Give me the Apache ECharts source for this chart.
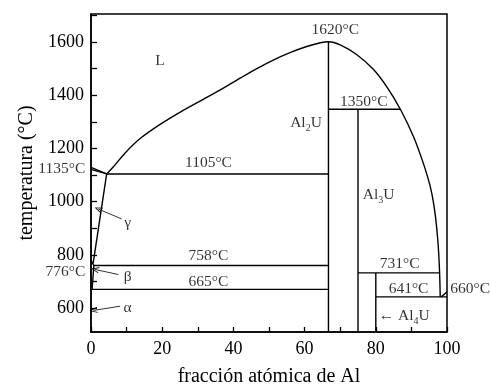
<!DOCTYPE html>
<html>
<head>
<meta charset="utf-8">
<style>
  html, body { margin: 0; padding: 0; background: #fff; }
  #chart { width: 490px; height: 392px; }
</style>
</head>
<body>
<div id="chart"></div>
<script src="https://cdn.jsdelivr.net/npm/echarts@6/dist/echarts.min.js"></script>
<script>
  // ticks
  const xTicks = [0, 10, 20, 30, 40, 50, 60, 70, 80, 90, 100];
  const xTickLabels = [0, 20, 40, 60, 80, 100];
  const yTicks = [600, 700, 800, 900, 1000, 1100, 1200, 1300, 1400, 1500, 1600, 1700];
  const yTickLabels = [600, 800, 1000, 1200, 1400, 1600];

  // phase boundaries [fraccion Al, T]
  const liquidus = [[4.4, 1104], [6.3, 1131], [9.6, 1183], [13.8, 1237], [19.4, 1290], [25.9, 1343],
    [35.3, 1412], [41.9, 1464], [46.6, 1500], [51.2, 1532], [55.9, 1560], [60.6, 1583], [64.4, 1597],
    [66.7, 1601], [70, 1589], [74.7, 1552], [79.3, 1497], [83.1, 1431], [86.9, 1347], [90.6, 1244],
    [93.5, 1138], [95.5, 1045], [96.7, 950], [97.5, 840], [97.9, 740], [98.1, 642]];
  const wedgeUpper = [[0, 1129], [4.4, 1104]];
  const wedgeLower = [[0, 1121], [4.4, 1104]];
  const gammaSolvus = [[4.4, 1104], [0.6, 768]];
  const betaBounds = [[0, 780], [0.8, 760], [0.3, 670]];
  const line1105 = [[4.4, 1104], [66.7, 1104]];
  const line758 = [[0.8, 760], [66.7, 760]];
  const line665 = [[0, 670], [66.7, 670]];
  const al2u = [[66.7, 1601], [66.7, 510]];
  const line1350 = [[66.7, 1347], [86.9, 1347]];
  const al3u = [[75, 1347], [75, 510]];
  const line731 = [[75, 732], [97.9, 732]];
  const al4u = [[80, 732], [80, 510]];
  const line641 = [[80, 642], [100, 642]];
  const line660 = [[98.4, 642], [100, 661]];

  // text labels [x, T, text]
  const annotations = [
    [19.4, 1533, 'L'],
    [68.6, 1650, '1620°C'],
    [76.6, 1380, '1350°C'],
    [60.4, 1300, 'Al{s|2}U'],
    [80.8, 1030, 'Al{s|3}U'],
    [33, 1150, '1105°C'],
    [33, 800, '758°C'],
    [33, 702, '665°C'],
    [86.7, 769, '731°C'],
    [89.2, 675, '641°C'],
    [106.5, 677, '660°C'],
    [-8.2, 1125, '1135°C'],
    [-7.2, 738, '776°C'],
    [10.3, 922, 'γ'],
    [10.3, 720, 'β'],
    [10.3, 605, 'α'],
    [88, 576, '← Al{s|4}U']
  ];
  const arrows = [
    [[8.6, 935], [2.05, 972]],
    [[7.7, 726], [1.1, 745]],
    [[8.2, 607], [0.65, 591]]
  ];

  const FONT = '"Liberation Serif", "Times New Roman", serif';
  const chart = echarts.init(document.getElementById('chart'));

  function boundary (data, smooth) {
    return {
      type: 'line',
      data: data,
      symbol: 'none',
      smooth: smooth ? 0.35 : false,
      lineStyle: { color: '#000', width: 1.4 },
      silent: true,
      z: 3
    };
  }

  const lineSets = [wedgeUpper, wedgeLower, gammaSolvus, betaBounds, line1105, line758, line665,
    al2u, line1350, al3u, line731, al4u, line641, line660];
  const series = [boundary(liquidus, true)].concat(lineSets.map(d => boundary(d, false)));

  series[series.length - 1].markLine = {
    silent: true,
    symbol: ['none', 'path://M0,10 L5,0 L10,10 L8.6,10 L5,2.6 L1.4,10 Z'],
    symbolSize: [6, 8],
    label: { show: false },
    lineStyle: { color: '#000', width: 0.8, type: 'solid' },
    data: arrows.map(a => [{ coord: a[0] }, { coord: a[1] }])
  };

  series.push({
    type: 'scatter',
    clip: false,
    symbolSize: 0,
    silent: true,
    data: annotations.map(a => ({
      value: [a[0], a[1]],
      name: a[2],
      label: { offset: [0, a[2].indexOf('{s|') >= 0 ? 1 : 1] }
    })),
    label: {
      show: true,
      position: 'inside',
      formatter: p => '{n|' + p.name.replace(/\{s\|(\d)\}/g, '}{s|$1}{n|') + '}',
      rich: {
        n: { fontFamily: FONT, fontSize: 15.5, color: '#000', lineHeight: 16, verticalAlign: 'top' },
        s: { fontFamily: FONT, fontSize: 10, color: '#000', lineHeight: 10, verticalAlign: 'top', padding: [9, 0, 0, 0] }
      }
    },
    z: 5
  });

  chart.setOption({
    animation: false,
    grid: {
      left: 91,
      right: 43,
      top: 14,
      bottom: 54,
      show: true,
      borderColor: '#000',
      borderWidth: 1.5
    },
    xAxis: {
      type: 'value',
      min: 0,
      max: 100,
      name: 'fracción atómica de Al',
      nameLocation: 'middle',
      nameGap: 35,
      nameTextStyle: { fontFamily: FONT, fontSize: 20, color: '#000' },
      axisLine: { lineStyle: { color: '#000', width: 1.5 } },
      axisTick: { inside: true, length: 5, customValues: xTicks, lineStyle: { color: '#000', width: 1.3 } },
      axisLabel: { customValues: xTickLabels, margin: 8, fontFamily: FONT, fontSize: 18, color: '#000', formatter: v => String(v) },
      splitLine: { show: false }
    },
    yAxis: {
      type: 'value',
      min: 510,
      max: 1705,
      name: 'temperatura (°C)',
      nameLocation: 'middle',
      nameGap: 53,
      nameTextStyle: { fontFamily: FONT, fontSize: 20, color: '#000' },
      axisLine: { lineStyle: { color: '#000', width: 1.5 } },
      axisTick: { inside: true, length: 6, customValues: yTicks, lineStyle: { color: '#000', width: 1.3 } },
      axisLabel: { customValues: yTickLabels, margin: 7, fontFamily: FONT, fontSize: 18, color: '#000', formatter: v => String(v) },
      splitLine: { show: false }
    },
    series: series
  });
</script>
</body>
</html>
